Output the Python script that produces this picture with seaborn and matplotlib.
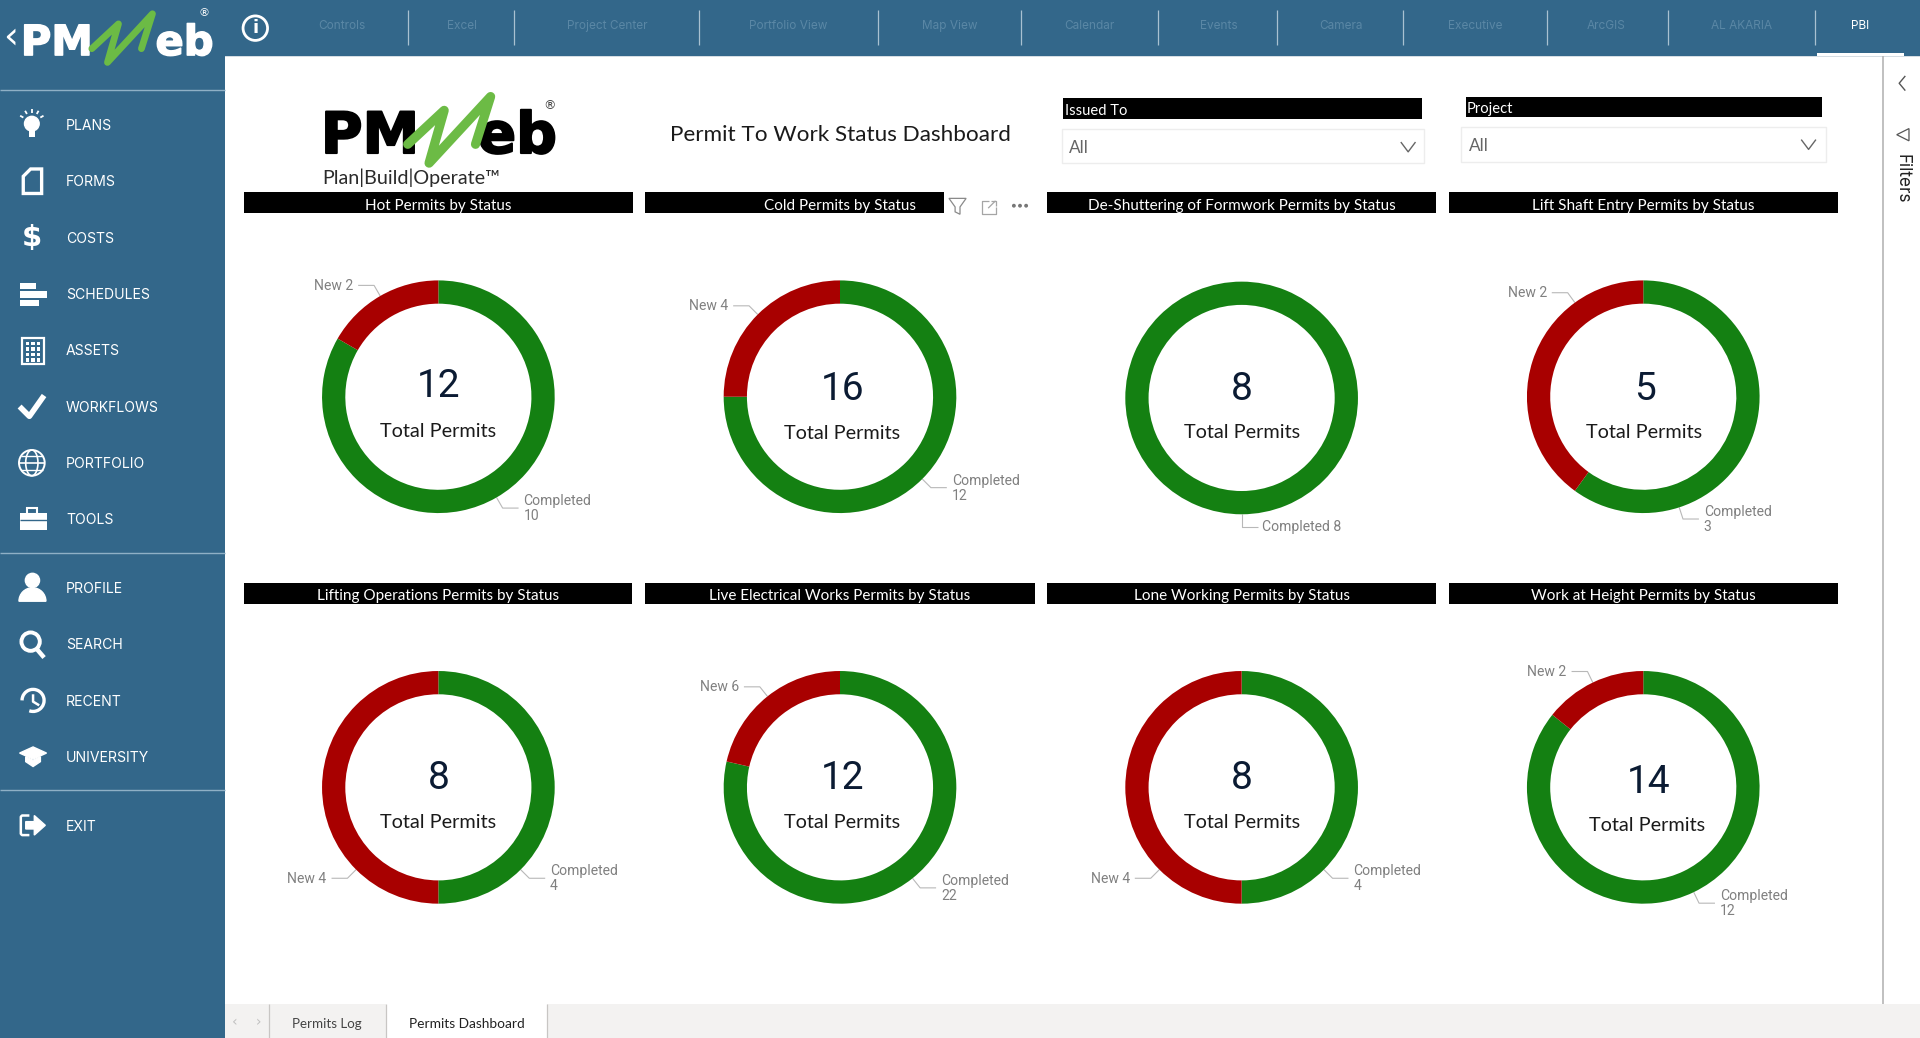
#!/usr/bin/env python3
# -*- coding: utf-8 -*-

import numpy as np
import pandas as pd
import matplotlib
matplotlib.use('Agg')
import matplotlib.pyplot as plt
import matplotlib.patheffects as pe
from matplotlib.patches import Rectangle, Circle, Polygon, Wedge, Arc
import seaborn as sns

# dados dos graficos
titulos = ['Hot Permits by Status', 'Cold Permits by Status',
           'De-Shuttering of Formwork Permits by Status', 'Lift Shaft Entry Permits by Status',
           'Lifting Operations Permits by Status', 'Live Electrical Works Permits by Status',
           'Lone Working Permits by Status', 'Work at Height Permits by Status']
novos = [2, 4, 0, 2, 4, 6, 4, 2]
completos = [10, 12, 8, 3, 4, 22, 4, 12]
totais = [12, 16, 8, 5, 8, 12, 8, 14]

menu_cima = ['PLANS', 'FORMS', 'COSTS', 'SCHEDULES', 'ASSETS', 'WORKFLOWS', 'PORTFOLIO', 'TOOLS']
menu_baixo = ['PROFILE', 'SEARCH', 'RECENT', 'UNIVERSITY']
abas = ['Controls', 'Excel', 'Project Center', 'Portfolio View', 'Map View', 'Calendar',
        'Events', 'Camera', 'Executive', 'ArcGIS', 'AL AKARIA', 'PBI']

# layout, em unidades da tela de 1568 de largura
W, H = 1568, 1568 * 1038 / 1920
AZUL = '#33678A'
centros = [(358, 324), (686, 324), (1014, 325), (1342, 324),
           (358, 643), (686, 643), (1014, 643), (1342, 643)]
raio = 95
pos_num = [(358, 316), (688, 318), (1014, 318), (1343, 318),
           (358, 636), (688, 636), (1014, 636), (1346, 639)]
pos_total = [(358, 352), (688, 354), (1014, 353), (1343, 353),
             (358, 672), (688, 672), (1014, 672), (1345, 674)]
barras = [(199, 517, 157), (527, 771, 157), (855, 1173, 157), (1183, 1501, 157),
          (199, 516, 476), (527, 845, 476), (855, 1173, 476), (1183, 1501, 476)]
# angulos onde a etiqueta sai, quando nao e o meio da fatia
angulo_novo = {3: -36, 4: -135, 6: -135}
angulo_comp = {3: 162, 4: 135, 6: 135}

sns.set_theme(style='white')
plt.rcParams['font.family'] = ['Roboto', 'DejaVu Sans']
cores = sns.color_palette(['#148012', '#A80000'])

fig = plt.figure(figsize=(19.2, 10.38), dpi=100, facecolor='white')
bg = fig.add_axes([0, 0, 1, 1], zorder=0)
bg.set_xlim(0, W)
bg.set_ylim(H, 0)
bg.axis('off')


def ret(x0, x1, y0, y1, cor, **kw):
    bg.add_patch(Rectangle((x0, y0), x1 - x0, y1 - y0, facecolor=cor, edgecolor=kw.pop('ec', 'none'), **kw))


def linha(xs, ys, cor='white', lw=1.0, **kw):
    bg.plot(xs, ys, color=cor, lw=lw, solid_capstyle=kw.pop('cap', 'butt'), **kw)


def logo(x, x_eb, x_w, y, esc, cor):
    # y = linha de base, esc = tamanho da fonte
    grosso = [pe.withStroke(linewidth=esc / 28, foreground=cor)]
    for tx, s in [(x, 'PM'), (x_eb, 'eb')]:
        bg.text(tx, y, s, family='DejaVu Sans', weight='bold', fontsize=esc, color=cor,
                va='baseline', ha='left', path_effects=grosso)
    k = esc / 40
    px = np.array([0, 29, 17, 66, 54]) * k + x_w
    py = np.array([-7, -34, 8, -45, -7]) * k + y
    bg.plot(px, py, color='#6CBB45', lw=6.5 * k, solid_joinstyle='round', solid_capstyle='round', zorder=4)


# barra lateral e superior
ret(0, 184, 0, H, AZUL)
ret(184, W, 0, 46, AZUL)
ret(184, W, 46, 46.8, '#D5DDE3')
for yy in [73.5, 452, 645.5]:
    linha([0, 184], [yy, yy], '#8FB0C6', 1.0)

logo(17, 127, 75, 45, 30, 'white')
bg.text(8.5, 31, '‹', color='white', fontsize=27, ha='center', va='center', family='DejaVu Sans')
bg.text(167, 11, '®', color='white', fontsize=8, ha='center', va='center', family='DejaVu Sans')
bg.add_patch(Circle((208.5, 23), 10, fill=False, ec='white', lw=2))
bg.text(208.5, 23, 'i', color='white', fontsize=13, ha='center', va='center', weight='bold', family='DejaVu Sans')

ys_menu = [103, 149, 195, 241, 287, 333, 379, 425]
for nome, yy in zip(menu_cima, ys_menu):
    bg.text(54, yy, nome, color='white', fontsize=10.1, va='center', family='Inter')
for nome, yy in zip(menu_baixo, [481, 527, 573, 619]):
    bg.text(54, yy, nome, color='white', fontsize=10.1, va='center', family='Inter')
bg.text(54, 675, 'EXIT', color='white', fontsize=10.1, va='center', family='Inter')

# icones do menu
bg.add_patch(Circle((26, 101), 6, color='white'))
ret(23.5, 28.5, 104, 112, 'white')
for ang in [-60, -30, 0, 30, 60]:
    a = np.radians(ang)
    linha([26 + 8 * np.sin(a), 26 + 11 * np.sin(a)], [100 - 8 * np.cos(a), 100 - 11 * np.cos(a)], 'white', 1.3)
bg.add_patch(Polygon([(19, 144), (25, 138), (34, 138), (34, 158), (19, 158)], fill=False, ec='white', lw=2.4))
bg.text(26, 194, '$', color='white', fontsize=21, ha='center', va='center', weight='bold', family='DejaVu Sans')
ret(16, 29, 231, 236, 'white')
ret(16, 38, 238, 243, 'white')
ret(16, 32, 245, 250, 'white')
ret(18, 36, 276, 297, 'none', ec='white', lw=1.6)
for i in range(3):
    for j in range(4):
        ret(21 + i * 4.5, 24 + i * 4.5, 279 + j * 4.5, 282 + j * 4.5, 'white')
linha([16, 24, 36], [332, 340, 323], 'white', 4)
bg.add_patch(Circle((26, 378), 10.5, fill=False, ec='white', lw=1.4))
linha([15.5, 36.5], [378, 378], 'white', 1.2)
linha([17, 35], [372, 372], 'white', 1.0)
linha([17, 35], [384, 384], 'white', 1.0)
bg.add_patch(Arc((26, 378), 10, 21, ec='white', lw=1.2))
ret(16, 38, 419, 433, 'white')
bg.add_patch(Rectangle((22, 415), 8, 5, fill=False, ec='white', lw=1.5))
linha([16, 38], [425, 425], AZUL, 1.0)
bg.add_patch(Circle((26.5, 474), 5.8, color='white'))
bg.add_patch(Wedge((26.5, 491), 11, 180, 360, color='white'))
bg.add_patch(Circle((25, 524), 7.5, fill=False, ec='white', lw=2.8))
linha([30, 36], [530, 537], 'white', 3.2)
bg.add_patch(Arc((27, 572), 18, 18, theta1=-180, theta2=110, ec='white', lw=2.4))
linha([27, 27, 32], [567, 573, 576], 'white', 1.8)
bg.add_patch(Polygon([(16, 615), (27, 610), (38, 615), (27, 620)], color='white'))
bg.add_patch(Polygon([(21, 618), (27, 621), (33, 618), (33, 622), (27, 626), (21, 622)], color='white'))
linha([24, 18, 17, 17, 18, 24], [666, 666, 667, 681, 682, 682], 'white', 1.8)
bg.add_patch(Polygon([(21, 671), (28, 671), (28, 666), (37, 674), (28, 682), (28, 677), (21, 677)], color='white'))

# abas superiores
x_abas = [279, 377, 496, 644, 776, 890, 995, 1095, 1205, 1312, 1422, 1519]
for nome, xx in zip(abas, x_abas):
    cor = 'white' if nome == 'PBI' else '#5A87A5'
    bg.text(xx, 21.5, nome, color=cor, fontsize=8.5, ha='center', va='center', family='Inter')
for xx in [333, 420, 571, 717, 834, 946, 1043, 1146, 1263, 1362, 1482]:
    linha([xx, xx], [8, 37], '#A9C1D1', 0.9)
ret(1484, 1555, 43.5, 46, 'white')

# cabecalho do relatorio
logo(262, 390, 333, 125, 41, 'black')
bg.text(449, 86, '®', color='#444444', fontsize=9, ha='center', va='center', family='DejaVu Sans')
bg.text(263, 145, 'Plan|Build|Operate™', color='#2B2B2B', fontsize=14.2, va='center', family='Lato')
bg.text(686, 110, 'Permit To Work Status Dashboard', color='#1A1A1A', fontsize=16.2, ha='center', va='center', family='Lato')

# filtros
ret(868, 1161, 80, 97, 'black')
bg.text(870, 90.5, 'Issued To', color='white', fontsize=10.6, va='center', family='Lato')
ret(867, 1163, 105, 133.5, 'white', ec='#EDEDED', lw=1)
bg.text(873, 121, 'All', color='#666666', fontsize=12.3, va='center', family='Lato')
linha([1144, 1150, 1156], [116, 124, 116], '#666666', 1)
ret(1197, 1488, 79, 95.5, 'black')
bg.text(1198, 89, 'Project', color='white', fontsize=10.6, va='center', family='Lato')
ret(1193, 1491, 103.5, 132, 'white', ec='#EDEDED', lw=1)
bg.text(1200, 119.5, 'All', color='#666666', fontsize=12.3, va='center', family='Lato')
linha([1471, 1477, 1483], [114, 122, 114], '#666666', 1)

# icones de foco do visual
bg.add_patch(Polygon([(775, 162), (789, 162), (784, 169), (784, 175), (780, 173), (780, 169)], fill=False, ec='#8A8A8A', lw=0.9))
linha([808, 802, 802, 813, 813], [164, 164, 175, 175, 169], '#A5A5A5', 0.9)
linha([807, 813], [170, 164], '#A5A5A5', 0.9)
linha([809, 813, 813], [164, 164, 168], '#A5A5A5', 0.9)
for xx in [828, 833, 838]:
    bg.add_patch(Circle((xx, 168), 1, color='#777777'))

# painel de filtros
linha([1538, 1538], [46, 820], '#B5B5B5', 1.2)
linha([1556, 1551, 1556], [62, 68, 74], '#555555', 1)
bg.add_patch(Polygon([(1549, 110), (1559, 105), (1559, 115)], fill=False, ec='#555555', lw=0.9))
bg.text(1553, 146, 'Filters', color='#222222', fontsize=12.3, rotation=-90, ha='center', va='center', family='Inter')

# rodape
ret(184, W, 820, H, '#F3F2F1')
ret(315, 447, 820, H, 'white')
for xx in [220, 315, 447]:
    linha([xx, xx], [820, H], '#C8C6C4', 0.9)
bg.text(267, 836.5, 'Permits Log', color='#444444', fontsize=9.6, ha='center', va='center', family='Lato')
bg.text(381, 836.5, 'Permits Dashboard', color='#222222', fontsize=9.9, ha='center', va='center', family='Lato')
bg.text(192, 835, '‹', color='#C0C0C0', fontsize=10, ha='center', va='center', family='DejaVu Sans')
bg.text(211, 835, '›', color='#C0C0C0', fontsize=10, ha='center', va='center', family='DejaVu Sans')


def etiqueta(cx, cy, ang, texto):
    # linha guia a partir do anel, depois cotovelo horizontal e o texto
    a = np.radians(ang)
    x0, y0 = cx + raio * np.sin(a), cy - raio * np.cos(a)
    x1, y1 = cx + (raio + 10) * np.sin(a), cy - (raio + 10) * np.cos(a)
    lado = 1 if np.sin(a) >= -1e-6 else -1
    x2 = x1 + lado * 13
    linha([x0, x1, x2], [y0, y1, y1], '#B8B8B8', 0.8)
    bg.text(x2 + lado * 4, y1 + 0.5, texto, color='#808080', fontsize=10.1, va='center',
            ha='left' if lado > 0 else 'right', linespacing=1.08, family='Roboto')


# um anel para cada tipo de permissao
df = pd.DataFrame({'titulo': titulos, 'novo': novos, 'completo': completos, 'total': totais})
for i, row in df.iterrows():
    x0, x1, yb = barras[i]
    ret(x0, x1, yb, yb + 17, 'black')
    cx, cy = centros[i]
    bg.text(cx, yb + 11, row['titulo'], color='white', fontsize=11, ha='center', va='center', family='Lato')

    ax = fig.add_axes([(cx - raio) / W, 1 - (cy + raio) / H, 2 * raio / W, 2 * raio / H], zorder=1)
    vals = [row['completo'], row['novo']]
    wedges, _ = ax.pie(vals, colors=cores, startangle=90, counterclock=False, radius=1,
                       wedgeprops={'width': 0.2, 'linewidth': 0})
    ax.set_xlim(-1, 1)
    ax.set_ylim(-1, 1)
    ax.axis('off')

    # meio de cada fatia, em graus a partir do topo, no sentido horario
    meio_comp = 90 - (wedges[0].theta1 + wedges[0].theta2) / 2
    meio_novo = 90 - (wedges[1].theta1 + wedges[1].theta2) / 2
    if row['novo'] > 0:
        etiqueta(cx, cy, angulo_novo.get(i, meio_novo), f"New {row['novo']}")
        etiqueta(cx, cy, angulo_comp.get(i, meio_comp), f"Completed\n{row['completo']}")
    else:
        etiqueta(cx, cy, meio_comp, f"Completed {row['completo']}")

    bg.text(pos_num[i][0], pos_num[i][1], str(row['total']), color='#0B1B33', fontsize=28, ha='center', va='center', family='Roboto')
    bg.text(pos_total[i][0], pos_total[i][1], 'Total Permits', color='#1A1A1A', fontsize=14.3, ha='center', va='center', family='Lato')

fig.savefig('out.png', dpi=100, facecolor='white')
